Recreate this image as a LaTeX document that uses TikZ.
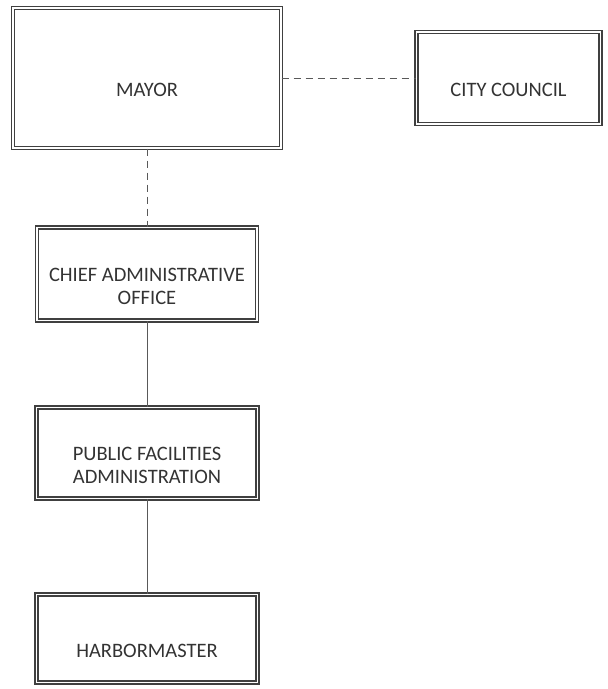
\documentclass[tikz,border=0pt]{standalone}
\usepackage{fontspec}
\setmainfont{Carlito}

% box text sits a little below the middle of each box
\newcommand{\boxlabel}[1]{\raisebox{-19.5pt}[0pt][0pt]{\begin{tabular}{@{}c@{}}#1\end{tabular}}}

\tikzset{
  orgbox/.style={rectangle, draw=black!75, line width=1.2pt, double=white,
    double distance=1.8pt, inner sep=0pt, text=black!80,
    font=\fontsize{20.5}{22.5}\selectfont},
  solidlink/.style={draw=black!65, line width=1pt},
  dashlink/.style={solidlink, dash pattern=on 7pt off 5pt}
}

\begin{document}
\begin{tikzpicture}[x=1pt, y=-1pt]
  \useasboundingbox (0,0) rectangle (608,689);

  % top row
  \node[orgbox, minimum width=268pt, minimum height=140pt] (mayor) at (147,78) {\boxlabel{MAYOR}};
  \node[orgbox, minimum width=184pt, minimum height=92pt] (council) at (508.5,78) {\boxlabel{CITY COUNCIL}};

  % chain below the mayor
  \node[orgbox, minimum width=220pt, minimum height=93pt] (chief) at (147,274) {\boxlabel{CHIEF ADMINISTRATIVE\\OFFICE}};
  \node[orgbox, minimum width=221pt, minimum height=91pt] (pubfac) at (147,453) {\boxlabel{PUBLIC FACILITIES\\ADMINISTRATION}};
  \node[orgbox, minimum width=221pt, minimum height=88pt] (harbor) at (147,638.5) {\boxlabel{HARBORMASTER}};

  % links
  \draw[dashlink] (mayor.east) -- (council.west);
  \draw[dashlink] (mayor.south) -- (chief.north);
  \draw[solidlink] (chief.south) -- (pubfac.north);
  \draw[solidlink] (pubfac.south) -- (harbor.north);
\end{tikzpicture}
\end{document}
